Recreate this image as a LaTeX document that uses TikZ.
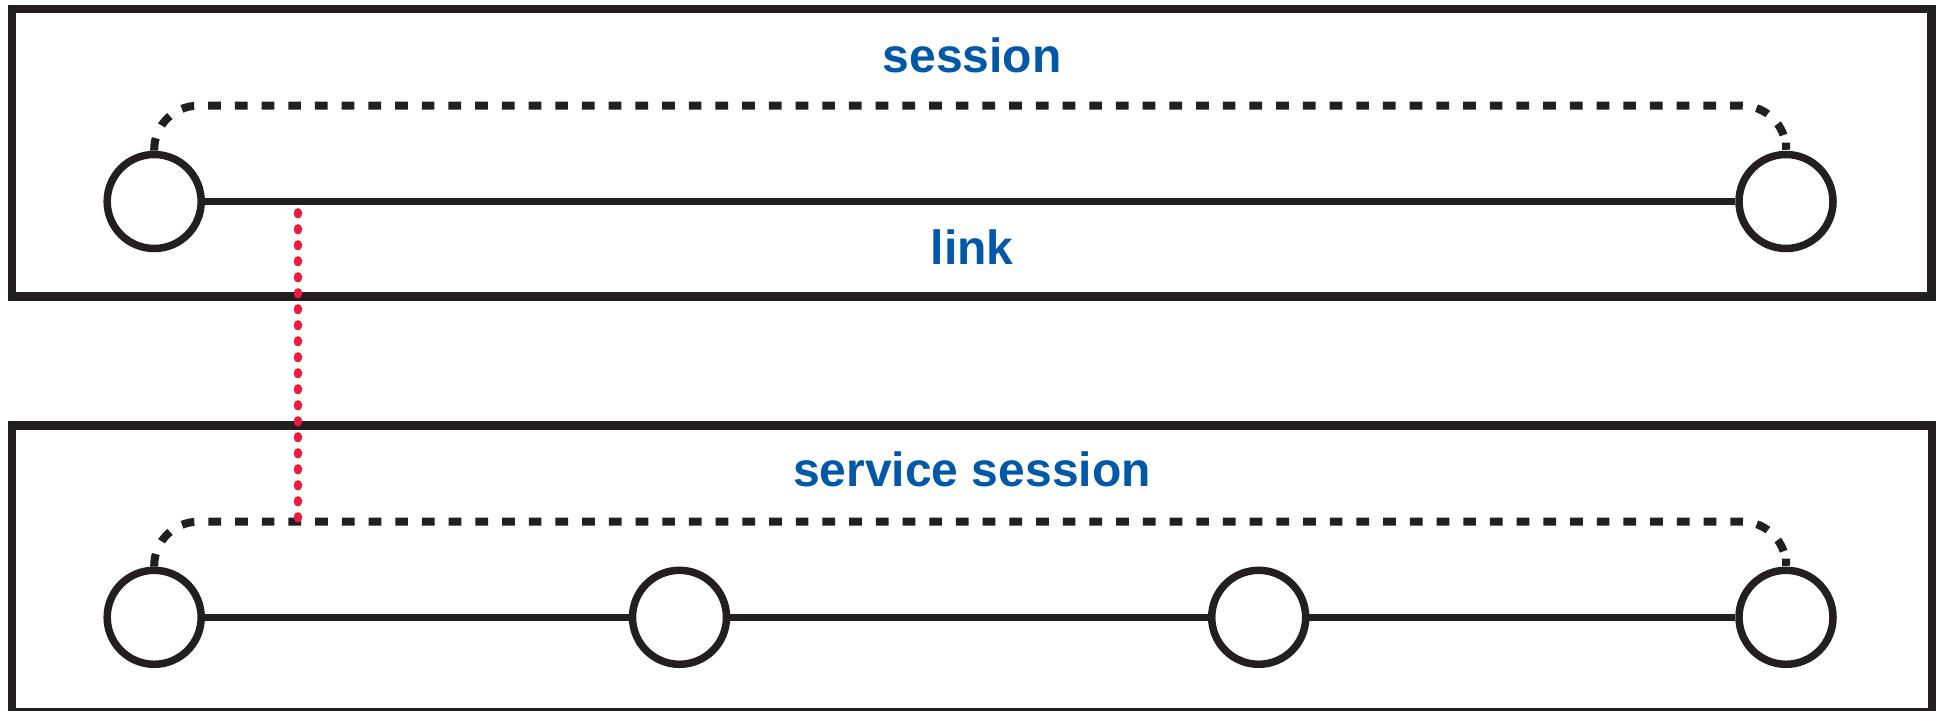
\documentclass[tikz,border=0pt]{standalone}
\usepackage{fontspec}
\setmainfont{Liberation Sans}
\definecolor{inkblack}{HTML}{231F20}
\definecolor{labelblue}{HTML}{0058A8}
\definecolor{markred}{HTML}{EB1C42}
\begin{document}
\begin{tikzpicture}[x=1pt,y=-1pt,
  frame/.style={draw=inkblack,line width=8.5pt},
  endpoint/.style={circle,draw=inkblack,line width=7.5pt,fill=white,inner sep=0pt,minimum size=94pt},
  linkline/.style={draw=inkblack,line width=7.5pt},
  sessionpath/.style={draw=inkblack,line width=8pt,dash pattern=on 12.7pt off 14pt,rounded corners=44pt},
  tracer/.style={draw=markred,line width=8.3pt,line cap=round,dash pattern=on 2pt off 14pt},
  label/.style={text=labelblue,font=\fontsize{48}{56}\selectfont\bfseries,anchor=base,inner sep=0pt}]
\useasboundingbox (0,0) rectangle (1942,711);
\fill[white] (0,0) rectangle (1942,711);

% upper layer: one link carrying a session
\draw[frame] (12,9) rectangle (1931.5,296.5);
\node[endpoint] (t1) at (154.2,201.5) {};
\node[endpoint] (t2) at (1786,201.5) {};
\draw[linkline] (t1) -- (t2);
\draw[sessionpath] (t1.north) -- (t1.north |- 0,105.7) -- (t2.north |- 0,105.7) -- ([yshift=8pt]t2.north);
\node[label] (lsession) at (972,72.7) {session};
\node[label] (llink) at (972,265) {link};

% lower layer: a service session across several hops
\draw[frame] (12,425.5) rectangle (1932,712.5);
\node[endpoint] (b1) at (154.2,617.3) {};
\node[endpoint] (b2) at (679.5,617.3) {};
\node[endpoint] (b3) at (1258.7,617.3) {};
\node[endpoint] (b4) at (1786,617.3) {};
\draw[linkline] (b1) -- (b2);
\draw[linkline] (b2) -- (b3);
\draw[linkline] (b3) -- (b4);
\draw[sessionpath] (b1.north) -- (b1.north |- 0,521.7) -- (b4.north |- 0,521.7) -- ([yshift=8pt]b4.north);
\node[label] (lservice) at (972,486.7) {service session};

% mapping between the upper link and the lower service session
\coordinate (rtop) at (297.7,212.3);
\coordinate (rbot) at (297.7,518.3);
\draw[tracer] (rtop) -- (rbot);
\end{tikzpicture}
\end{document}
